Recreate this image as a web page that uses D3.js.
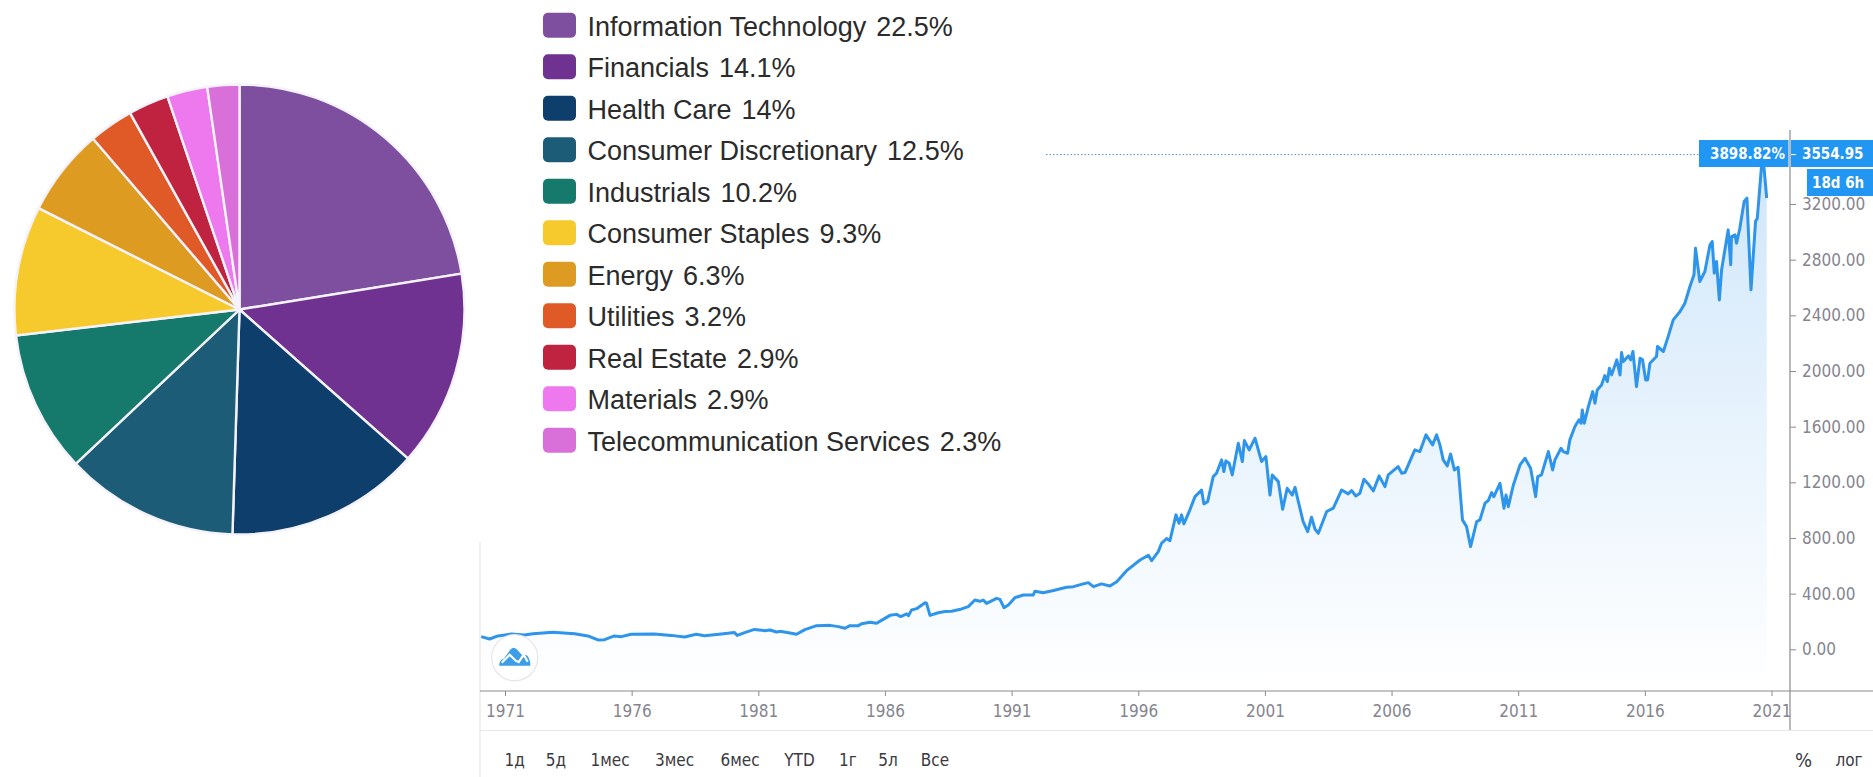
<!DOCTYPE html>
<html lang="en">
  <head>
    <meta charset="UTF-8" />
    <title>S&amp;P 500 sectors and index</title>
    <style>
      html, body { margin: 0; padding: 0; background: #fff; overflow: hidden; }
      svg { display: block; }
      .legend text { font-family: 'Liberation Sans', Arial, sans-serif; font-size: 27px; fill: #2b2b2b; }
      .tv text { font-family: 'DejaVu Sans Condensed', 'DejaVu Sans', sans-serif; font-size: 17px; }
    </style>
  </head>
  <body>
    <svg id="chart" width="1873" height="777"></svg>
    <script src="https://d3js.org/d3.v7.min.js"></script>
    <script>
      const sectors = ['Information Technology', 'Financials', 'Health Care', 'Consumer Discretionary', 'Industrials', 'Consumer Staples', 'Energy', 'Utilities', 'Real Estate', 'Materials', 'Telecommunication Services'];
      const shares = [22.5, 14.1, 14, 12.5, 10.2, 9.3, 6.3, 3.2, 2.9, 2.9, 2.3];
      const sectorColors = ['#7f4f9f', '#6f3290', '#0e3e6b', '#1c5c76', '#157a6c', '#f6ca2c', '#de9b22', '#e05a27', '#bf2340', '#ee78ee', '#d96fd8'];

      // time in decimal years
      const indexYears = [
        1970.06, 1970.39, 1970.72, 1971.25, 1971.77, 1972.10, 1972.89, 1973.75, 1974.27, 1974.67, 1974.93, 1975.32, 1975.59, 1975.98, 1976.90, 1977.56, 1978.09, 1978.55, 1978.88, 1979.54,
        1980.06, 1980.17, 1980.46, 1980.85, 1981.25, 1981.46, 1981.72, 1981.85, 1982.25, 1982.51, 1982.84, 1983.30, 1983.83, 1984.16, 1984.42, 1984.62, 1984.95, 1985.08, 1985.41, 1985.67,
        1985.93, 1986.20, 1986.46, 1986.62, 1986.86, 1986.93, 1987.05, 1987.25, 1987.58, 1987.64, 1987.78, 1988.10, 1988.37, 1988.63, 1989.03, 1989.29, 1989.55, 1989.75, 1989.88, 1990.01,
        1990.41, 1990.54, 1990.70, 1990.87, 1991.13, 1991.46, 1991.85, 1991.92, 1992.25, 1992.65, 1993.17, 1993.44, 1993.83, 1994.03, 1994.23, 1994.55, 1994.88, 1995.15, 1995.54, 1996.07,
        1996.40, 1996.53, 1996.79, 1996.92, 1997.12, 1997.25, 1997.49, 1997.61, 1997.71, 1997.80, 1998.04, 1998.24, 1998.50, 1998.59, 1998.74, 1998.96, 1999.09, 1999.29, 1999.38, 1999.46,
        1999.59, 1999.71, 1999.95, 2000.11, 2000.19, 2000.38, 2000.61, 2000.87, 2001.04, 2001.20, 2001.29, 2001.53, 2001.70, 2001.88, 2002.08, 2002.19, 2002.32, 2002.51, 2002.69, 2002.84,
        2002.98, 2003.11, 2003.44, 2003.70, 2004.03, 2004.29, 2004.42, 2004.59, 2004.75, 2004.91, 2005.08, 2005.28, 2005.51, 2005.74, 2005.87, 2006.26, 2006.40, 2006.53, 2006.92, 2007.12,
        2007.36, 2007.62, 2007.78, 2007.91, 2008.04, 2008.20, 2008.33, 2008.48, 2008.63, 2008.80, 2008.96, 2009.12, 2009.36, 2009.49, 2009.69, 2009.82, 2009.95, 2010.04, 2010.28, 2010.44,
        2010.52, 2010.61, 2010.81, 2011.07, 2011.27, 2011.49, 2011.69, 2011.77, 2011.92, 2012.19, 2012.36, 2012.45, 2012.69, 2012.78, 2012.95, 2013.04, 2013.24, 2013.40, 2013.48, 2013.53,
        2013.61, 2013.77, 2013.94, 2014.03, 2014.12, 2014.29, 2014.42, 2014.52, 2014.60, 2014.69, 2014.89, 2015.02, 2015.08, 2015.15, 2015.35, 2015.44, 2015.53, 2015.67, 2015.81, 2015.91,
        2016.03, 2016.11, 2016.20, 2016.46, 2016.50, 2016.73, 2016.92, 2017.12, 2017.39, 2017.58, 2017.78, 2017.94, 2018.00, 2018.17, 2018.37, 2018.57, 2018.66, 2018.74, 2018.83, 2018.94,
        2019.03, 2019.29, 2019.39, 2019.42, 2019.56, 2019.62, 2019.75, 2019.92, 2020.03, 2020.19, 2020.37, 2020.44, 2020.61, 2020.66, 2020.81
      ];
      const indexValues = [
        91, 74, 96, 110, 103, 112, 122, 112, 96, 67, 69, 96, 91, 108, 110, 100, 88, 108, 98, 110,
        120, 100, 120, 143, 134, 139, 124, 129, 117, 108, 141, 170, 172, 163, 151, 170, 170, 184, 194, 187,
        215, 244, 251, 235, 254, 242, 283, 292, 335, 331, 244, 263, 271, 273, 290, 307, 354, 345, 354, 330,
        366, 359, 299, 318, 371, 390, 390, 417, 407, 422, 446, 450, 470, 479, 450, 470, 455, 486, 565, 642,
        676, 637, 702, 762, 796, 781, 966, 906, 966, 901, 1002, 1097, 1145, 1045, 1061, 1241, 1265, 1361, 1277, 1354,
        1337, 1253, 1481, 1349, 1500, 1433, 1517, 1349, 1385, 1109, 1253, 1205, 1006, 1157, 1109, 1164, 1061, 918, 846, 949,
        863, 834, 990, 1014, 1145, 1117, 1141, 1102, 1121, 1222, 1188, 1138, 1246, 1169, 1253, 1313, 1265, 1270, 1433, 1421,
        1541, 1469, 1541, 1469, 1361, 1318, 1404, 1289, 1308, 930, 882, 738, 918, 930, 1050, 1069, 1126, 1097, 1193, 1014,
        1109, 1025, 1181, 1325, 1373, 1301, 1097, 1241, 1253, 1421, 1289, 1361, 1445, 1421, 1409, 1505, 1601, 1649, 1625, 1720,
        1625, 1744, 1852, 1768, 1864, 1900, 1967, 1924, 2020, 1972, 2080, 1972, 2132, 2068, 2108, 2080, 2140, 1888, 2092, 2080,
        1936, 1936, 2056, 2104, 2176, 2140, 2247, 2367, 2427, 2487, 2607, 2691, 2882, 2643, 2715, 2906, 2930, 2703, 2787, 2511,
        2727, 3014, 2763, 2966, 2978, 2918, 3026, 3218, 3242, 2583, 3074, 3098, 3481, 3555, 3242
      ];
      const yearTicks = [1971, 1976, 1981, 1986, 1991, 1996, 2001, 2006, 2011, 2016, 2021];
      const priceTicks = [0, 400, 800, 1200, 1600, 2000, 2400, 2800, 3200];
      const lastPrice = 3554.95;
      const lastPercent = '3898.82%';
      const countdown = '18d 6h';
      const rangeButtons = ['1д', '5д', '1мес', '3мес', '6мес', 'YTD', '1г', '5л', 'Все'];
      const rangeButtonCenters = [514.6, 556, 610, 674.5, 740, 799.5, 848, 888, 935];

      const svg = d3.select('#chart');
      const blue = '#2196f3';
      const greyText = '#85858f';
      const axisX = 1790, axisY = 691;

      function drawPie() {
        let arc = d3.arc().innerRadius(0).outerRadius(225);
        let pie = d3.pie().sort(null).value((d) => d);
        svg
          .append('g')
          .attr('transform', 'translate(239.5,309.5)')
          .selectAll('path')
          .data(pie(shares))
          .enter()
          .append('path')
          .attr('d', arc)
          .attr('fill', (d, i) => sectorColors[i])
          .attr('stroke', '#f4f2fa')
          .attr('stroke-width', 2.4);
      }

      function drawLegend() {
        let rows = svg
          .append('g')
          .attr('class', 'legend')
          .selectAll('g')
          .data(sectors)
          .enter()
          .append('g')
          .attr('transform', (d, i) => `translate(543,${12.7 + i * 41.5})`);
        rows
          .append('rect')
          .attr('width', 33)
          .attr('height', 25)
          .attr('rx', 5)
          .attr('fill', (d, i) => sectorColors[i]);
        let labels = rows.append('text').attr('x', 44.5).attr('y', 23);
        labels.append('tspan').text((d) => d);
        labels
          .append('tspan')
          .attr('dx', 10)
          .text((d, i) => shares[i] + '%');
      }

      function drawIndexChart() {
        let x = d3.scaleLinear().domain([1971, 2021]).range([505, 1771.5]);
        let y = d3.scaleLinear().domain([0, 3200]).range([649.3, 204]);
        let points = indexYears.map((year, i) => [year, indexValues[i]]);
        let root = svg.append('g').attr('class', 'tv');

        let gradient = root
          .append('defs')
          .append('linearGradient')
          .attr('id', 'areaFade')
          .attr('gradientUnits', 'userSpaceOnUse')
          .attr('x1', 0)
          .attr('x2', 0)
          .attr('y1', 150)
          .attr('y2', 690);
        gradient.append('stop').attr('offset', 0).attr('stop-color', '#cfe6fa');
        gradient.append('stop').attr('offset', 1).attr('stop-color', '#ffffff');

        let area = d3
          .area()
          .x((d) => x(d[0]))
          .y0(axisY)
          .y1((d) => y(d[1]));
        root.append('path').attr('d', area(points)).attr('fill', 'url(#areaFade)');

        let line = d3
          .line()
          .x((d) => x(d[0]))
          .y((d) => y(d[1]));
        root
          .append('path')
          .attr('d', line(points))
          .attr('fill', 'none')
          .attr('stroke', '#2e95ea')
          .attr('stroke-width', 3)
          .attr('stroke-linejoin', 'round');

        // frame lines
        root.append('line').attr('x1', 480).attr('x2', 480).attr('y1', 542).attr('y2', 777).attr('stroke', '#e2e2e4');
        root.append('line').attr('x1', 480).attr('x2', 1873).attr('y1', 730.5).attr('y2', 730.5).attr('stroke', '#e8e8ea');
        root.append('line').attr('x1', 480).attr('x2', 1873).attr('y1', axisY).attr('y2', axisY).attr('stroke', '#8b8b90').attr('stroke-width', 1.2);

        let bottom = root
          .append('g')
          .attr('transform', `translate(0,${axisY})`)
          .call(d3.axisBottom(x).tickValues(yearTicks).tickFormat(d3.format('d')).tickSize(5).tickPadding(9));
        bottom.select('.domain').remove();
        bottom.selectAll('line').attr('stroke', '#8b8b90');
        bottom.selectAll('text').attr('fill', greyText).style('font-size', '17px').style('font-family', "'DejaVu Sans Condensed', 'DejaVu Sans', sans-serif");

        let right = root
          .append('g')
          .attr('transform', `translate(${axisX},0)`)
          .call(d3.axisRight(y).tickValues(priceTicks).tickFormat(d3.format('.2f')).tickSize(6).tickPadding(6));
        right.select('.domain').remove();
        right.selectAll('line').attr('stroke', '#8b8b90');
        right.selectAll('text').attr('fill', greyText).style('font-size', '17px').style('font-family', "'DejaVu Sans Condensed', 'DejaVu Sans', sans-serif");

        root.append('line').attr('x1', axisX).attr('x2', axisX).attr('y1', 130).attr('y2', 730).attr('stroke', '#8b8b90').attr('stroke-width', 1.2);

        // last value marker
        let lastY = y(lastPrice);
        root
          .append('line')
          .attr('x1', 1046)
          .attr('x2', 1699)
          .attr('y1', lastY)
          .attr('y2', lastY)
          .attr('stroke', '#5b8fb5')
          .attr('stroke-dasharray', '1.5 2');

        let tag = (left, right, top, bottom, label, textX) => {
          root.append('rect').attr('x', left).attr('y', top).attr('width', right - left).attr('height', bottom - top).attr('fill', blue);
          root
            .append('text')
            .attr('x', textX)
            .attr('y', (top + bottom) / 2)
            .attr('dy', '0.35em')
            .attr('fill', '#fff')
            .style('font-weight', 'bold')
            .style('font-size', '15px')
            .text(label);
        };
        tag(1699, 1788.5, 140, 167, lastPercent, 1710);
        tag(1791, 1873, 140, 167, lastPrice.toFixed(2), 1802);
        tag(1807, 1873, 169, 196, countdown, 1812);
        root.append('line').attr('x1', 1791).attr('x2', 1796).attr('y1', lastY).attr('y2', lastY).attr('stroke', '#fff');

        // bottom toolbar
        root
          .selectAll('.range')
          .data(rangeButtons)
          .enter()
          .append('text')
          .attr('class', 'range')
          .attr('x', (d, i) => rangeButtonCenters[i])
          .attr('y', 760)
          .attr('dy', '0.35em')
          .attr('text-anchor', 'middle')
          .attr('fill', '#3a3a3f')
          .text((d) => d);
        root.append('text').attr('x', 1803.6).attr('y', 760).attr('dy', '0.35em').attr('text-anchor', 'middle').attr('fill', '#3a3a3f').style('font-size', '20px').text('%');
        root.append('text').attr('x', 1849).attr('y', 760).attr('dy', '0.35em').attr('text-anchor', 'middle').attr('fill', '#3a3a3f').text('лог');

        // logo badge
        let logo = root.append('g').attr('transform', 'translate(514.7,657.7)');
        logo.append('circle').attr('r', 23).attr('fill', '#fff').attr('stroke', '#e6e6e8').attr('stroke-width', 1.2);
        logo
          .append('path')
          .attr('d', 'M-15.5,8 Q-15.5,2 -11,1 L-4,-8.5 Q-1,-11.5 2,-8.5 L7,-3 Q12,-4 14,0 Q16,4 15.5,8 Z')
          .attr('fill', '#3d9ee8');
        logo
          .append('path')
          .attr('d', 'M-13,5 L-5,-3 L1,3 L4,4.5 L9,-3 L13,4')
          .attr('fill', 'none')
          .attr('stroke', '#fff')
          .attr('stroke-width', 2.2);
      }

      drawPie();
      drawLegend();
      drawIndexChart();
    </script>
  </body>
</html>
